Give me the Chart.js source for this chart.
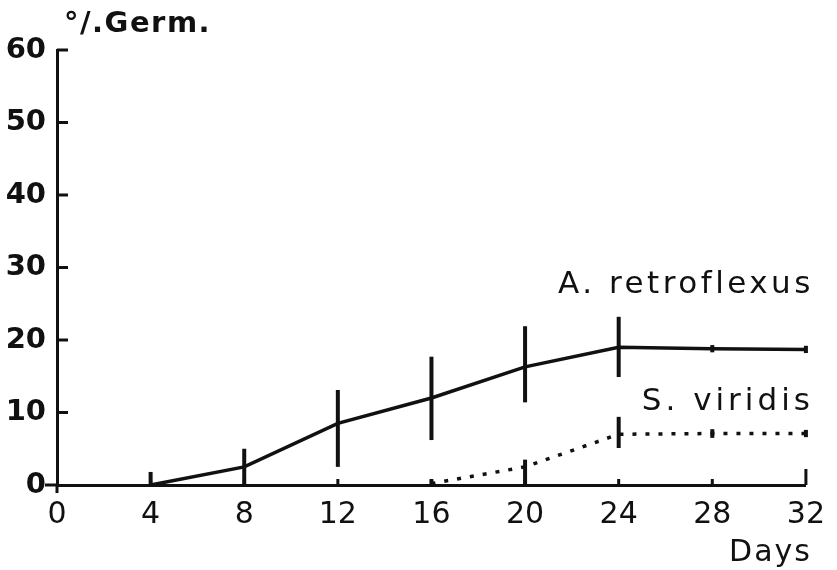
<!DOCTYPE html>
<html>
<head>
<meta charset="utf-8">
<script src="https://cdn.jsdelivr.net/npm/chart.js@4/dist/chart.umd.min.js"></script>
<style>
  html, body { margin: 0; padding: 0; background: #ffffff; }
  #c { display: block; }
</style>
</head>
<body>
<canvas id="c" width="837" height="570"></canvas>
<script>
// ---- data ----
const dayTicks = [0, 4, 8, 12, 16, 20, 24, 28, 32];
const germTicks = [0, 10, 20, 30, 40, 50, 60];

const retroDays = [4, 8, 12, 16, 20, 24, 28, 32];
const retroGerm = [0, 2.5, 8.5, 12, 16.3, 19, 18.8, 18.7];
const retroLow  = [0, 0, 2.5, 6.2, 11.4, 14.9, 18.3, 18.2];
const retroHigh = [1.8, 5, 13.1, 17.7, 21.9, 23.2, 19.3, 19.2];

const viridisDays = [16, 20, 24, 28, 32];
const viridisGerm = [0.2, 2.5, 7, 7.1, 7.1];
const viridisLow  = [0, 0, 5.1, 6.5, 6.6];
const viridisHigh = [0.8, 3.5, 9.4, 7.7, 7.6];

const INK = '#111111';

function pts(xs, ys) { return xs.map((d, i) => ({ x: d, y: ys[i] })); }

const errorBars = {
  id: 'errorBars',
  afterDatasetsDraw(chart) {
    const { ctx, scales: { x, y } } = chart;
    const sets = [
      [retroDays, retroLow, retroHigh],
      [viridisDays, viridisLow, viridisHigh]
    ];
    ctx.save();
    ctx.strokeStyle = INK;
    ctx.lineWidth = 4;
    ctx.lineCap = 'butt';
    sets.forEach(([ds, lo, hi]) => {
      ds.forEach((d, i) => {
        const px = x.getPixelForValue(d);
        ctx.beginPath();
        ctx.moveTo(px, y.getPixelForValue(lo[i]));
        ctx.lineTo(px, y.getPixelForValue(hi[i]));
        ctx.stroke();
      });
    });
    ctx.restore();
  }
};

const axisDecor = {
  id: 'axisDecor',
  afterDraw(chart) {
    const { ctx, chartArea: a, scales: { x, y } } = chart;
    ctx.save();
    ctx.strokeStyle = INK;
    ctx.lineWidth = 3;
    // y ticks pointing inward, 0 tick outward
    y.ticks.forEach(t => {
      const py = y.getPixelForValue(t.value);
      ctx.beginPath();
      if (t.value === 0) { ctx.moveTo(a.left - 12, py); ctx.lineTo(a.left, py); }
      else { ctx.moveTo(a.left, py); ctx.lineTo(a.left + 11, py); }
      ctx.stroke();
    });
    // y axis extends a little below zero
    ctx.beginPath();
    ctx.moveTo(a.left, a.bottom);
    ctx.lineTo(a.left, a.bottom + 8);
    ctx.stroke();
    // x ticks pointing inward
    x.ticks.forEach(t => {
      if (t.value === 0) return;
      const px = x.getPixelForValue(t.value);
      ctx.beginPath();
      ctx.moveTo(px, a.bottom);
      ctx.lineTo(px, a.bottom - (t.value === 32 ? 16 : 6));
      ctx.stroke();
    });
    // texts
    ctx.fillStyle = INK;
    ctx.textBaseline = 'alphabetic';
    ctx.font = 'bold 29px "DejaVu Sans"';
    ctx.textAlign = 'left';
    ctx.letterSpacing = '1.5px';
    ctx.fillText('°/.Germ.', 64, 32);
    ctx.font = '31px "DejaVu Sans"';
    ctx.textAlign = 'right';
    ctx.letterSpacing = '3.5px';
    ctx.fillText('A. retroflexus', x.getPixelForValue(32) + 8, y.getPixelForValue(26.5));
    ctx.letterSpacing = '4px';
    ctx.fillText('S. viridis', x.getPixelForValue(32) + 8, y.getPixelForValue(10.4));
    ctx.font = '30px "DejaVu Sans"';
    ctx.letterSpacing = '2px';
    ctx.fillText('Days', x.getPixelForValue(32) + 6, 561);
    ctx.restore();
  }
};

new Chart(document.getElementById('c'), {
  type: 'line',
  data: {
    datasets: [
      {
        label: 'A. retroflexus',
        data: pts(retroDays, retroGerm),
        borderColor: INK,
        borderWidth: 3.5,
        pointRadius: 0,
        tension: 0,
        fill: false
      },
      {
        label: 'S. viridis',
        data: pts(viridisDays, viridisGerm),
        borderColor: INK,
        borderWidth: 3.5,
        borderDash: [4, 9],
        pointRadius: 0,
        tension: 0,
        fill: false
      }
    ]
  },
  options: {
    responsive: false,
    animation: false,
    devicePixelRatio: 1,
    layout: { padding: { top: 50, right: 25, left: 0, bottom: 0 } },
    plugins: { legend: { display: false }, tooltip: { enabled: false }, title: { display: false } },
    scales: {
      x: {
        type: 'linear',
        min: 0, max: 32,
        afterBuildTicks: s => { s.ticks = dayTicks.map(v => ({ value: v })); },
        afterFit: s => { s.height = 85; },
        grid: { display: false, drawTicks: false },
        border: { display: true, color: INK, width: 3 },
        ticks: { color: INK, font: { family: '"DejaVu Sans"', size: 30 }, padding: 12, maxRotation: 0 }
      },
      y: {
        type: 'linear',
        min: 0, max: 60,
        afterBuildTicks: s => { s.ticks = germTicks.map(v => ({ value: v })); },
        afterFit: s => { s.width = 57; },
        grid: { display: false, drawTicks: false },
        border: { display: true, color: INK, width: 3 },
        ticks: { color: INK, font: { family: '"DejaVu Sans"', size: 29, weight: 'bold' }, padding: 11 }
      }
    }
  },
  plugins: [errorBars, axisDecor]
});
</script>
</body>
</html>
